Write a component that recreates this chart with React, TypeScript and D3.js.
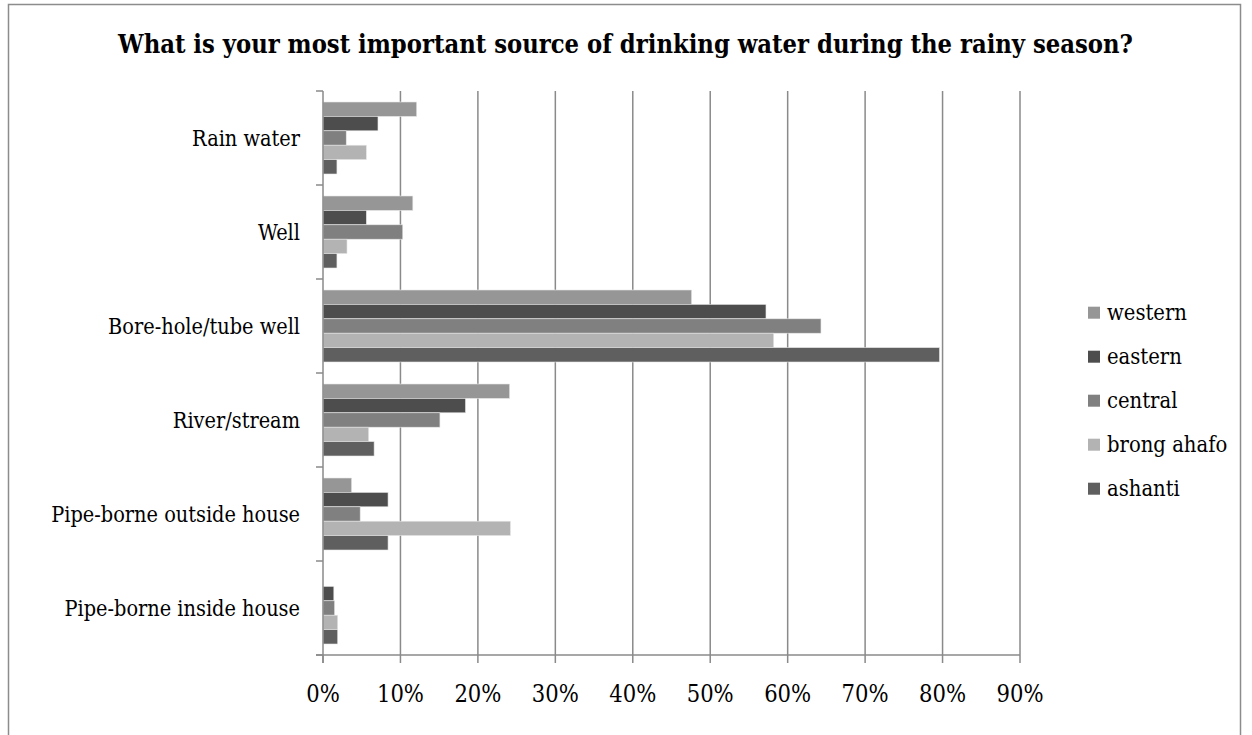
import React from "react";
import * as d3 from "d3";

const categories = [
  "Rain water",
  "Well",
  "Bore-hole/tube well",
  "River/stream",
  "Pipe-borne outside house",
  "Pipe-borne inside house",
];
const seriesNames = ["western", "eastern", "central", "brong ahafo", "ashanti"];
const western = [0.121, 0.116, 0.476, 0.241, 0.037, 0.0];
const eastern = [0.071, 0.056, 0.572, 0.184, 0.084, 0.014];
const central = [0.03, 0.103, 0.643, 0.151, 0.048, 0.015];
const brongAhafo = [0.056, 0.031, 0.582, 0.059, 0.242, 0.019];
const ashanti = [0.018, 0.018, 0.796, 0.066, 0.084, 0.019];
const seriesValues = [western, eastern, central, brongAhafo, ashanti];
const colors = ["#969696", "#4d4d4d", "#808080", "#b3b3b3", "#5f5f5f"];
const xTicks = [0, 0.1, 0.2, 0.3, 0.4, 0.5, 0.6, 0.7, 0.8, 0.9];
const title = "What is your most important source of drinking water during the rainy season?";

const FONT_C = "'DejaVu Serif Condensed', 'DejaVu Serif', serif";

export default function App() {
  const W = 1252;
  const H = 735;
  const x = d3.scaleLinear().domain([0, 0.9]).range([323, 1020]);
  const y = d3.scaleBand<string>().domain(categories).range([91, 655]);
  const inner = d3
    .scaleBand<string>()
    .domain(seriesNames)
    .range([11, y.bandwidth() - 11]);
  const grid = "#8a8a8a";

  return (
    <svg
      width={W}
      height={H}
      style={{ position: "absolute", left: 0, top: 0, background: "#fff" }}
    >
      <rect x={8.5} y={4.5} width={1232} height={760} fill="#fff" stroke="#8c8c8c" strokeWidth={1.5} />
      <text
        x={625.5}
        y={53}
        textAnchor="middle"
        fontFamily={FONT_C}
        fontWeight="bold"
        fontSize={25.3}
        fill="#000"
      >
        {title}
      </text>

      {/* gridlines */}
      {xTicks.slice(1).map((t) => (
        <line key={"g" + t} x1={x(t)} x2={x(t)} y1={91} y2={655} stroke={grid} strokeWidth={1.5} />
      ))}

      {/* bars */}
      {categories.map((c, ci) =>
        seriesNames.map((s, si) => {
          const v = seriesValues[si][ci];
          const w = x(v) - x(0);
          if (w <= 0) return null;
          return (
            <rect
              key={c + s}
              x={x(0)}
              y={(y(c) as number) + (inner(s) as number)}
              width={w}
              height={inner.bandwidth()}
              fill={colors[si]}
              stroke="#e6e6e6"
              strokeWidth={0.6}
            />
          );
        })
      )}

      {/* y axis */}
      <line x1={x(0)} x2={x(0)} y1={91} y2={663} stroke={grid} strokeWidth={1.5} />
      {categories.map((c) => (
        <line key={"yt" + c} x1={316} x2={x(0)} y1={y(c) as number} y2={y(c) as number} stroke={grid} strokeWidth={1.5} />
      ))}
      <line x1={316} x2={x(0)} y1={655} y2={655} stroke={grid} strokeWidth={1.5} />

      {/* x axis */}
      <line x1={316} x2={x(0.9)} y1={655} y2={655} stroke={grid} strokeWidth={1.5} />
      {xTicks.map((t) => (
        <line key={"xt" + t} x1={x(t)} x2={x(t)} y1={655} y2={663} stroke={grid} strokeWidth={1.5} />
      ))}
      {xTicks.map((t) => (
        <text
          key={"xl" + t}
          x={x(t)}
          y={702}
          textAnchor="middle"
          fontFamily={FONT_C}
          fontSize={23.5}
          fill="#000"
        >
          {d3.format(".0%")(t)}
        </text>
      ))}

      {/* category labels */}
      {categories.map((c) => (
        <text
          key={"cl" + c}
          x={300}
          y={(y(c) as number) + y.bandwidth() / 2 + 8}
          textAnchor="end"
          fontFamily={FONT_C}
          fontSize={21.5}
          fill="#000"
        >
          {c}
        </text>
      ))}

      {/* legend */}
      {seriesNames.map((s, i) => (
        <g key={"lg" + s} transform={`translate(1088, ${306.7 + i * 44})`}>
          <rect x={0} y={0} width={12} height={12} fill={colors[i]} />
          <text x={19} y={13} fontFamily={FONT_C} fontSize={21.8} fill="#000">
            {s}
          </text>
        </g>
      ))}
    </svg>
  );
}
